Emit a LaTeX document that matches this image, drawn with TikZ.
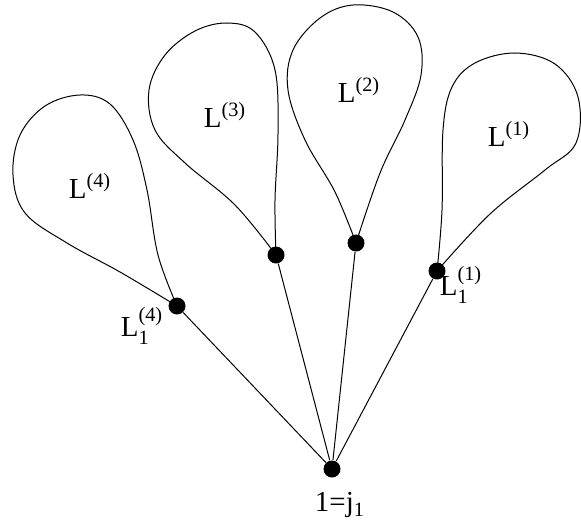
\documentclass[tikz,border=0pt]{standalone}
\usepackage{amsmath}
\usepackage{fontspec}
\setmainfont{Liberation Serif}
\usetikzlibrary{positioning}
\tikzset{
  dot/.style={circle,fill=black,inner sep=0pt,minimum size=8.5pt},
  lab/.style={font=\fontsize{14.5}{17}\selectfont},
  petal/.style={line width=.5pt,smooth,tension=.6}
}
\newcommand{\Lsup}[1]{$\text{L}^{\text{(#1)}}$}
\newcommand{\Lsub}[1]{$\text{L}_{\text{1}}^{\text{(#1)}}$}

\begin{document}
\begin{tikzpicture}[x=.5pt,y=-.5pt,line width=.5pt]
  \useasboundingbox (0,0) rectangle (581,524);
  % root and the four attachment points
  \node[dot] (r) at (332,469) {};
  \node[dot] (d4) at (177,306) {};
  \node[dot] (d3) at (276,255) {};
  \node[dot] (d2) at (356,243) {};
  \node[dot] (d1) at (437,271) {};
  \foreach \d in {d4,d3,d2,d1}
    \draw (r) -- (\d);
  % the loops
  \draw plot[petal] coordinates {(d4.center) (158,255) (147,190) (133,140)
    (110,104) (80,95) (45,106) (20,135) (13,175) (25,213) (67,243) (120,272)
    (d4.center)};
  \draw plot[petal] coordinates {(d3.center) (275,200) (278,133) (275,70)
    (255,32) (227,23) (195,31) (165,55) (149,90) (155,130) (185,163)
    (235,205) (d3.center)};
  \draw plot[petal] coordinates {(d2.center) (335,192) (305,140) (288,90)
    (293,50) (320,18) (353,5) (393,12) (418,37) (421,75) (405,120)
    (380,173) (d2.center)};
  \draw plot[petal] coordinates {(d1.center) (442,210) (443,130) (452,87)
    (475,63) (515,53) (555,64) (578,97) (576,143) (545,170) (490,214)
    (d1.center)};
  % labels
  \node[lab] (l4) at (90,186) {\Lsup{4}};
  \node[lab] (l3) at (225,115) {\Lsup{3}};
  \node[lab] (l2) at (359,90) {\Lsup{2}};
  \node[lab] (l1) at (509,134) {\Lsup{1}};
  \node[lab] (t4) at (142,326) {\Lsub{4}};
  \node[lab] (t1) at (461,285) {\Lsub{1}};
  \node[lab,inner sep=0pt,below=7pt of r,xshift=4pt] (rl) {1=j$_{\text{1}}$};
\end{tikzpicture}
\end{document}
